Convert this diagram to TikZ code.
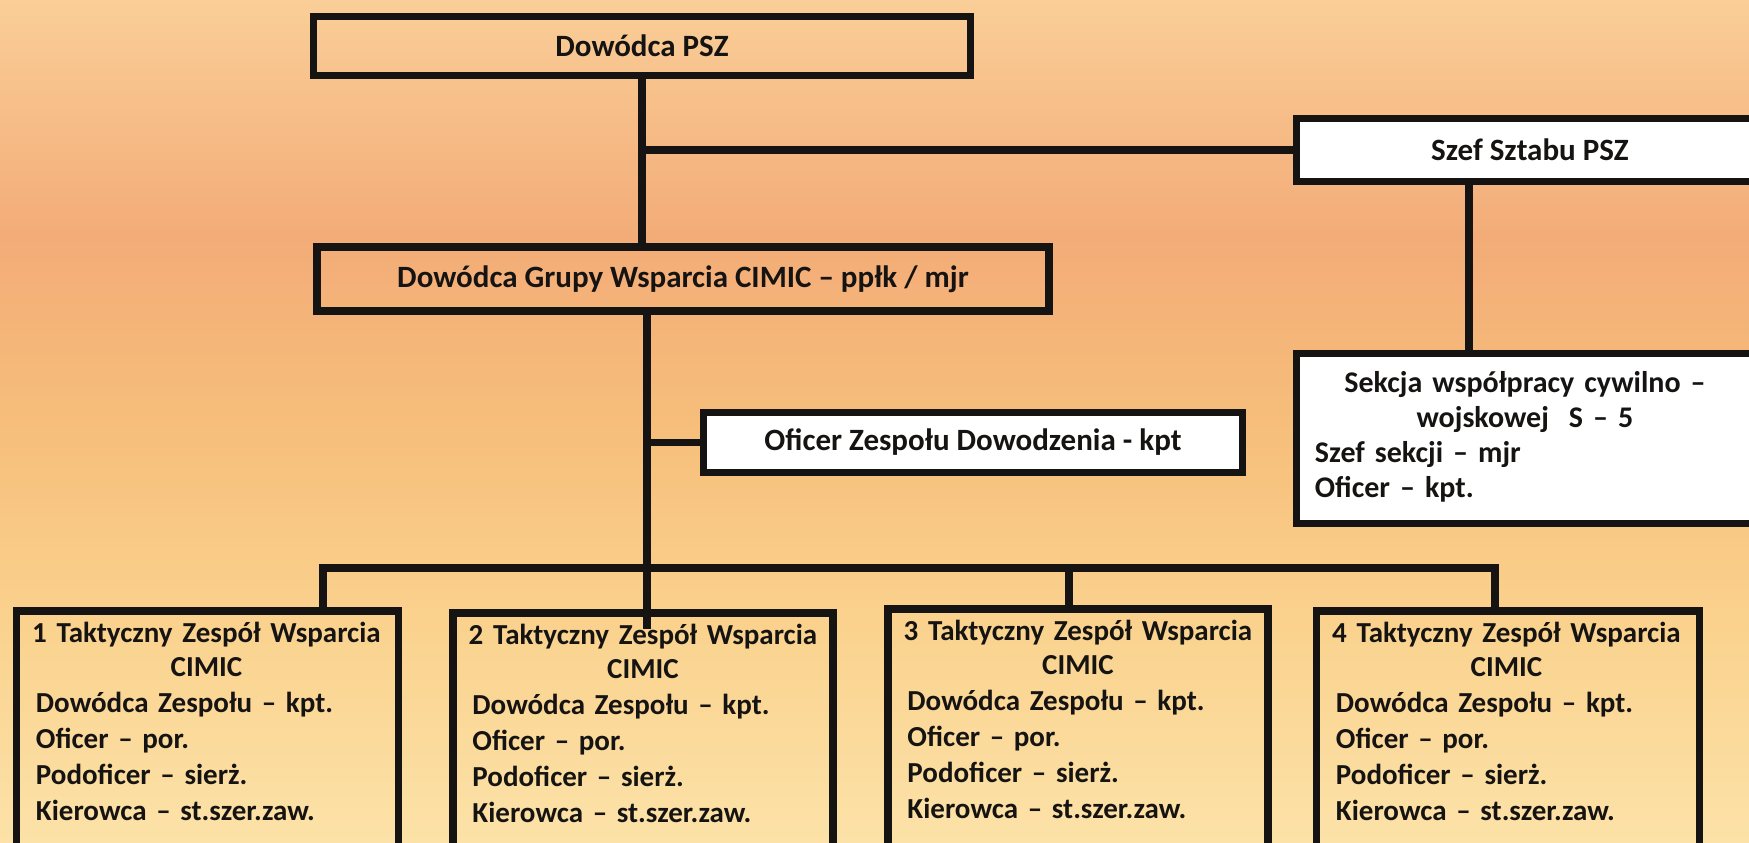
\documentclass[tikz,border=0pt]{standalone}
\usepackage{fontspec}
\setmainfont{Carlito}
\definecolor{ink}{RGB}{22,20,18}
\definecolor{bgA}{RGB}{252,226,168}
\definecolor{bgB}{RGB}{250,210,142}
\definecolor{bgC}{RGB}{246,190,122}
\definecolor{bgD}{RGB}{243,172,120}
\definecolor{bgE}{RGB}{250,206,152}
\pgfdeclareverticalshading{bgshade}{100bp}{color(0bp)=(bgA); color(25bp)=(bgA); color(38bp)=(bgB); color(50bp)=(bgC); color(61bp)=(bgD); color(75bp)=(bgE); color(100bp)=(bgE)}
\tikzset{
  box/.style={draw=ink, line width=7.5pt, inner sep=0pt, text=ink,
    font=\bfseries\fontsize{31}{37}\selectfont},
  wbox/.style={box, fill=white},
  txt/.style={inner sep=0pt, text=ink, align=left,
    font=\bfseries\fontsize{29}{36}\selectfont},
  conn/.style={draw=ink, line width=7.5pt}
}
\newcommand{\ctr}[1]{\makebox[\linewidth][c]{#1}}
\begin{document}
\begin{tikzpicture}[x=1pt,y=-1pt]
\useasboundingbox (0,0) rectangle (1749,843);
\clip (0,0) rectangle (1749,843);
\shade[shading=bgshade] (0,0) rectangle (1749,843);

% boxes
\node[box, minimum width=657pt, minimum height=59pt] (psz) at (642,46) {Dowódca PSZ};
\node[box, minimum width=732pt, minimum height=64pt] (grp) at (683,279) {Dowódca Grupy Wsparcia CIMIC – ppłk / mjr};
\node[wbox, minimum width=467pt, minimum height=63pt] (szef) at (1530,150) {Szef Sztabu PSZ};
\node[wbox, minimum width=467pt, minimum height=170pt] (sek) at (1530,438.5) {};
\node[wbox, minimum width=539pt, minimum height=60pt] (ofc) at (973,442.5) {Oficer Zespołu Dowodzenia - kpt};
\node[box, minimum width=382pt, minimum height=289pt] (b1) at (207.5,755.5) {};
\node[box, minimum width=380pt, minimum height=289pt] (b2) at (643,757.5) {};
\node[box, minimum width=380pt, minimum height=289pt] (b3) at (1078,753.5) {};
\node[box, minimum width=383pt, minimum height=289pt] (b4) at (1508,755.5) {};

% texts
\node[txt, anchor=north west, text width=420pt, font=\bfseries\fontsize{30}{35}\selectfont] (sektxt) at ([xshift=22pt,yshift=-21pt]sek.north west)
 {\ctr{Sekcja współpracy cywilno –}\\\ctr{wojskowej\ \ S – 5}\\Szef sekcji – mjr\\Oficer – kpt.};
\foreach \b/\n in {b1/1,b2/2,b3/3,b4/4}{
\node[txt, anchor=north west, text width=341pt] (\b txt) at ([xshift=23pt,yshift=-15pt]\b.north west)
 {\ctr{\n\ Taktyczny Zespół Wsparcia}\\[-2pt]\ctr{CIMIC}\\Dowódca Zespołu – kpt.\\Oficer – por.\\Podoficer – sierż.\\Kierowca – st.szer.zaw.};
}

% connectors
\coordinate (busy) at (0,568);
\coordinate (d1) at ([xshift=115.5pt]b1.north);
\coordinate (d3) at ([xshift=-9pt]b3.north);
\coordinate (d4) at ([xshift=-13pt]b4.north);
\coordinate (tend) at ([xshift=4pt,yshift=-20pt]b2.north);
\coordinate (sk) at ([xshift=-61pt]szef.south);
\draw[conn] (psz.south) -- (grp.north -| psz.south);
\draw[conn] (szef.west) -- (szef.west -| psz.south);
\draw[conn] (sk) -- (sek.north -| sk);
\draw[conn] (grp.south -| tend) -- (tend);
\draw[conn] (ofc.west) -- (ofc.west -| tend);
\draw[conn] (d1) -- (d1 |- busy) -- (d4 |- busy) -- (d4);
\draw[conn] (d3 |- busy) -- (d3);
\end{tikzpicture}
\end{document}
